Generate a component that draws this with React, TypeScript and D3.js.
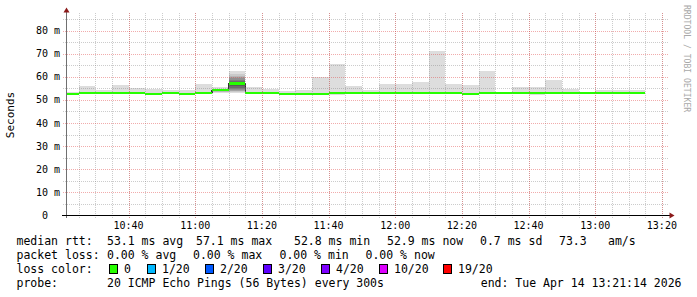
import React from "react";
import * as d3 from "d3";

const W = 697;
const H = 297;

// ---- data ----
const intervalStart = [
  "10:20", "10:25", "10:30", "10:35", "10:40", "10:45", "10:50", "10:55",
  "11:00", "11:05", "11:10", "11:15", "11:20", "11:25", "11:30", "11:35",
  "11:40", "11:45", "11:50", "11:55", "12:00", "12:05", "12:10", "12:15",
  "12:20", "12:25", "12:30", "12:35", "12:40", "12:45", "12:50", "12:55",
  "13:00", "13:05", "13:10",
];
const medianMs = [
  52.6, 53.0, 53.0, 53.0, 53.0, 52.6, 53.0, 52.6,
  53.0, 54.2, 57.1, 53.0, 53.0, 52.6, 52.6, 52.6,
  53.0, 53.0, 53.0, 53.0, 53.0, 53.0, 53.0, 53.0,
  52.6, 53.0, 53.0, 53.0, 53.0, 53.0, 53.0, 53.0,
  53.0, 53.0, 53.0,
];
const minMs = [
  52.3, 52.7, 52.7, 52.7, 52.7, 52.3, 52.7, 52.3,
  52.7, 52.9, 53.0, 52.7, 52.7, 52.3, 52.3, 52.3,
  52.2, 52.7, 52.7, 52.7, 52.7, 52.7, 52.7, 52.7,
  52.3, 52.7, 52.7, 52.7, 52.2, 52.7, 52.7, 52.7,
  52.7, 52.7, 52.7,
];
const maxMs = [
  53.4, 56.0, 54.3, 56.4, 55.1, 54.7, 54.3, 54.4,
  56.9, 55.6, 62.3, 55.6, 54.8, 53.8, 54.4, 60.0,
  65.5, 56.0, 54.3, 56.9, 56.9, 57.9, 71.1, 56.9,
  56.4, 62.5, 53.4, 55.6, 55.6, 58.8, 54.8, 53.6,
  54.4, 54.4, 54.4,
];
// full sorted ping sets where the inner smoke is visible
const pings1105 = [52.9, 53.4, 53.6, 53.7, 53.8, 53.9, 54.0, 54.1, 54.15, 54.2, 54.2, 54.25, 54.3, 54.4, 54.5, 54.6, 54.7, 54.8, 54.9, 55.6];
const pings1110 = [53.0, 53.4, 53.7, 54.0, 54.3, 54.7, 55.2, 55.8, 56.5, 57.0, 57.2, 57.5, 57.9, 58.3, 58.8, 59.3, 59.8, 60.3, 61.2, 62.3];

const yTickValues = [0, 10, 20, 30, 40, 50, 60, 70, 80];
const yTickLabels = ["0\u00a0\u00a0", "10 m", "20 m", "30 m", "40 m", "50 m", "60 m", "70 m", "80 m"];
const xTickLabels = ["10:40", "11:00", "11:20", "11:40", "12:00", "12:20", "12:40", "13:00", "13:20"];

const lossLabels = ["0", "1/20", "2/20", "3/20", "4/20", "10/20", "19/20"];
const lossColors = ["#26ff00", "#00b8ff", "#0059ff", "#5e00ff", "#7e00ff", "#dd00ff", "#ff0000"];

const rttStats = ["53.1 ms avg", "57.1 ms max", "52.8 ms min", "52.9 ms now", "0.7 ms sd", "73.3", "am/s"];
const lossStats = ["0.00 % avg", "0.00 % max", "0.00 % min", "0.00 % now"];
const probeText = "20 ICMP Echo Pings (56 Bytes) every 300s";
const endText = "end: Tue Apr 14 13:21:14 2026";
const graphStart = "2026-04-14 10:21:14";
const graphEnd = "2026-04-14 13:21:14";
const dayStr = "2026-04-14";

// ---- layout ----
const mono = "'DejaVu Sans Mono', monospace";
const X0 = 66;
const X1 = 666;
const rttX = [107, 196, 294, 387, 480, 559, 608];
const lossX = [107, 193, 279.5, 365.5];
const boxX = [109, 147, 205, 263, 321, 379, 443];

export default function App() {
  const parseFull = d3.timeParse("%Y-%m-%d %H:%M:%S");
  const parseHM = d3.timeParse("%Y-%m-%d %H:%M");
  const t0 = parseFull(graphStart) as Date;
  const t1 = parseFull(graphEnd) as Date;
  const x = d3.scaleTime().domain([t0, t1]).range([X0, X1]);
  const y = d3.scaleLinear().domain([0, 80]).range([215.5, 30.5]);

  const starts = intervalStart.map((s) => parseHM(`${dayStr} ${s}`) as Date);
  const ends = starts.map((s) => d3.timeMinute.offset(s, 5));
  const xs = (d: Date) => Math.max(X0, x(d));

  const detail = new Map<string, number[]>([
    ["11:05", pings1105],
    ["11:10", pings1110],
  ]);
  const grayOf = (k: number) => {
    const c = Math.floor((190 / 10) * (10 - k)) + 50;
    const h = c.toString(16).padStart(2, "0");
    return `#${h}${h}${h}`;
  };

  const minorX = x.ticks(d3.timeMinute.every(5) as any);
  const majorX = x.ticks(d3.timeMinute.every(20) as any);
  const minorY = d3.range(5, 90, 10);
  const majorY = d3.range(10, 85, 10);

  // smoke
  const smoke: React.ReactNode[] = [];
  intervalStart.forEach((lbl, i) => {
    const xa = xs(starts[i]);
    const xb = x(ends[i]);
    const p = detail.get(lbl);
    if (p) {
      for (let k = 1; k <= 10; k++) {
        const lo = p[k - 1];
        const hi = p[20 - k];
        smoke.push(
          <rect key={`s${i}-${k}`} x={xa} width={xb - xa} y={y(hi)} height={y(lo) - y(hi)} fill={grayOf(k)} />
        );
      }
    } else {
      smoke.push(
        <rect key={`s${i}`} x={xa} width={xb - xa} y={y(maxMs[i])} height={y(minMs[i]) - y(maxMs[i])} fill={grayOf(1)} />
      );
    }
  });

  // dark slivers at step boundaries (innermost smoke layer edges)
  const inner = (i: number): [number, number] => {
    const p = detail.get(intervalStart[i]);
    return p ? [p[9], p[10]] : [medianMs[i], medianMs[i]];
  };
  const slivers: React.ReactNode[] = [];
  for (let i = 1; i < intervalStart.length; i++) {
    const a = inner(i - 1);
    const b = inner(i);
    const lo = Math.min(a[0], b[0]);
    const hi = Math.max(a[1], b[1]);
    if (hi - lo > 0.01) {
      const bx = x(starts[i]);
      slivers.push(<rect key={`b${i}`} x={bx - 0.7} width={1.4} y={y(hi)} height={y(lo) - y(hi)} fill="#323232" />);
    }
  }

  const swidth = 1.25;
  const medians = intervalStart.map((_, i) => {
    const xa = xs(starts[i]);
    const xb = x(ends[i]);
    const ym = y(medianMs[i]);
    return <rect key={`m${i}`} x={xa} width={xb - xa} y={ym - swidth} height={swidth * 2} fill={lossColors[0]} />;
  });

  const fmtHM = d3.timeFormat("%H:%M");
  const xTickDates = majorX.filter((d) => xTickLabels.includes(fmtHM(d)));

  return (
    <svg width={W} height={H} style={{ position: "absolute", left: 0, top: 0, background: "#fff" }}>
      <rect x={0} y={0} width={W} height={H} fill="#ffffff" />
      <g shapeRendering="crispEdges">{smoke}</g>
      <g shapeRendering="crispEdges">{slivers}</g>
      <g shapeRendering="crispEdges">{medians}</g>

      {/* grid */}
      <g shapeRendering="crispEdges" strokeDasharray="1,1" strokeWidth={1}>
        {minorX.map((d, i) => (
          <line key={`vx${i}`} x1={Math.round(x(d)) + 0.5} x2={Math.round(x(d)) + 0.5} y1={13} y2={218} stroke="rgba(128,128,128,0.4)" />
        ))}
        {minorY.map((v, i) => (
          <line key={`hy${i}`} x1={63} x2={668} y1={Math.round(y(v)) + 0.5} y2={Math.round(y(v)) + 0.5} stroke="rgba(128,128,128,0.4)" />
        ))}
        {majorX.map((d, i) => (
          <line key={`Vx${i}`} x1={Math.round(x(d)) + 0.5} x2={Math.round(x(d)) + 0.5} y1={13} y2={218} stroke="rgba(225,70,70,0.45)" />
        ))}
        {majorY.map((v, i) => (
          <line key={`Hy${i}`} x1={63} x2={668} y1={Math.round(y(v)) + 0.5} y2={Math.round(y(v)) + 0.5} stroke="rgba(225,70,70,0.45)" />
        ))}
      </g>

      {/* axes */}
      <g shapeRendering="crispEdges">
        <line x1={66.5} x2={66.5} y1={10} y2={218} stroke="#707070" strokeWidth={1} />
        <line x1={62} x2={670} y1={215.5} y2={215.5} stroke="#000000" strokeWidth={1} />
      </g>
      <path d="M66.5,7.5 L69.5,12.5 L63.5,12.5 Z" fill="#8b1a1a" />
      <path d="M674.5,215.5 L669.5,212.5 L669.5,218.5 Z" fill="#8b1a1a" />

      {/* y labels */}
      <g fontFamily={mono} fontSize={10} fill="#000" style={{ whiteSpace: "pre" }}>
        {yTickValues.map((v, i) => (
          <text key={`yl${i}`} x={60} y={y(v) + 3.6} textAnchor="end">{yTickLabels[i]}</text>
        ))}
        {xTickDates.map((d, i) => (
          <text key={`xl${i}`} x={x(d)} y={228.5} textAnchor="middle">{fmtHM(d)}</text>
        ))}
      </g>

      <text transform="translate(14,115) rotate(-90)" fontFamily={mono} fontSize={11} textAnchor="middle" fill="#000">Seconds</text>
      <text transform="translate(683.5,5) rotate(90)" fontFamily={mono} fontSize={8.1} fill="#a8a8a8">RRDTOOL / TOBI OETIKER</text>

      {/* legend */}
      <g fontFamily={mono} fontSize={11.5} fill="#000" style={{ whiteSpace: "pre" }}>
        <text x={16.5} y={245}>median rtt:</text>
        {rttStats.map((s, i) => (
          <text key={`r${i}`} x={rttX[i]} y={245}>{s}</text>
        ))}
        <text x={16.5} y={259}>packet loss:</text>
        {lossStats.map((s, i) => (
          <text key={`l${i}`} x={lossX[i]} y={259}>{s}</text>
        ))}
        <text x={16.5} y={273}>loss color:</text>
        {lossLabels.map((s, i) => (
          <g key={`c${i}`}>
            <rect x={boxX[i] + 0.5} y={264.5} width={8} height={9} fill={lossColors[i]} stroke="#000" strokeWidth={1} shapeRendering="crispEdges" />
            <text x={boxX[i] + 15} y={273}>{s}</text>
          </g>
        ))}
        <text x={16.5} y={287}>probe:</text>
        <text x={107} y={287}>{probeText}</text>
        <text x={681.5} y={287} textAnchor="end">{endText}</text>
      </g>
    </svg>
  );
}
